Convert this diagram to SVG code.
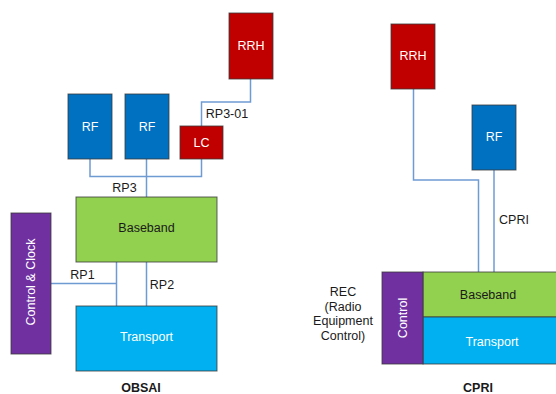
<svg xmlns="http://www.w3.org/2000/svg" width="556" height="394" viewBox="0 0 556 394">
<style>
text{font-family:"Liberation Sans",Arial,sans-serif;font-size:12.5px;text-anchor:middle}
.w{fill:#ffffff}
.k{fill:#1a1a1a}
.b{font-weight:bold;fill:#1a1a1a}
.box{stroke:#3a3a3a;stroke-width:1;stroke-opacity:0.8}
.red{fill:#C00000}
.blue{fill:#0070C0}
.green{fill:#92D050}
.cyan{fill:#00B0F0}
.purple{fill:#7030A0}
.ln{fill:none;stroke:#6F9BD3;stroke-width:1.5}
</style>
<rect width="556" height="394" fill="#ffffff"/>
<g id="connectors">
<polyline class="ln" points="250.5,79 250.5,102 201.5,102 201.5,126"/>
<polyline class="ln" points="90,159 90,176.5 201.5,176.5 201.5,159"/>
<line class="ln" x1="146.5" y1="159" x2="146.5" y2="197"/>
<line class="ln" x1="146.5" y1="262" x2="146.5" y2="306"/>
<line class="ln" x1="116.5" y1="262" x2="116.5" y2="306"/>
<line class="ln" x1="51" y1="283.5" x2="116.5" y2="283.5"/>
<polyline class="ln" points="413.5,89 413.5,180 478.5,180 478.5,272"/>
<line class="ln" x1="494" y1="170" x2="494" y2="272"/>
<text class="k" x="227" y="118">RP3-01</text>
<text class="k" x="124.5" y="192">RP3</text>
<text class="k" x="82.5" y="279">RP1</text>
<text class="k" x="162" y="289">RP2</text>
<text class="k" x="514" y="224">CPRI</text>
</g>
<g id="obsai-rrh"><rect class="box red" x="229" y="13" width="44" height="66"/><text class="w" x="251" y="50">RRH</text></g>
<g id="obsai-rf1"><rect class="box blue" x="68" y="94" width="44" height="65"/><text class="w" x="90" y="131">RF</text></g>
<g id="obsai-rf2"><rect class="box blue" x="125" y="94" width="44" height="65"/><text class="w" x="147" y="131">RF</text></g>
<g id="obsai-lc"><rect class="box red" x="180" y="126" width="43" height="33"/><text class="w" x="201.5" y="147">LC</text></g>
<g id="obsai-baseband"><rect class="box green" x="76" y="197" width="141" height="65"/><text class="k" x="146.5" y="232">Baseband</text></g>
<g id="obsai-control"><rect class="box purple" x="11" y="213" width="40" height="141"/><text class="w" transform="translate(34.5,282) rotate(-90)">Control &amp; Clock</text></g>
<g id="obsai-transport"><rect class="box cyan" x="76" y="306" width="141" height="65"/><text class="w" x="146.5" y="341">Transport</text></g>
<g id="obsai-label"><text class="b" x="141" y="392">OBSAI</text></g>
<g id="cpri-rrh"><rect class="box red" x="391" y="24" width="44" height="65"/><text class="w" x="413" y="60">RRH</text></g>
<g id="cpri-rf"><rect class="box blue" x="472" y="105" width="44" height="65"/><text class="w" x="494" y="141">RF</text></g>
<g id="cpri-baseband"><rect class="box green" x="423" y="272" width="140" height="45"/><text class="k" x="488" y="298.5">Baseband</text></g>
<g id="cpri-transport"><rect class="box cyan" x="423" y="317" width="140" height="47"/><text class="w" x="492" y="346">Transport</text></g>
<g id="cpri-control"><rect class="box purple" x="382" y="272" width="41" height="92"/><text class="w" transform="translate(407,318) rotate(-90)">Control</text></g>
<g id="rec-label"><text class="k" x="343" y="296">REC</text><text class="k" x="343" y="310.5">(Radio</text><text class="k" x="343" y="325">Equipment</text><text class="k" x="343" y="339.5">Control)</text></g>
<g id="cpri-label"><text class="b" x="478" y="392">CPRI</text></g>
</svg>
